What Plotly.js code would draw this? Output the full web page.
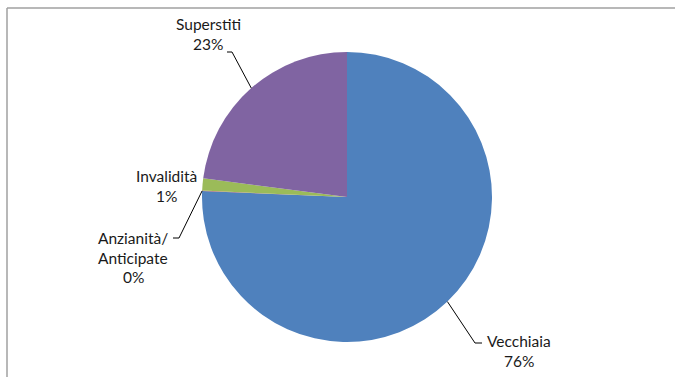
<!DOCTYPE html>
<html><head><meta charset="utf-8">
<script src="https://cdn.plot.ly/plotly-3.0.1.min.js"></script>
<style>html,body{margin:0;padding:0;background:#fff}#chart{width:675px;height:377px}</style>
</head><body><div id="chart"></div>
<script>
// Data
const categories = ["Vecchiaia", "Anzianità/ Anticipate", "Invalidità", "Superstiti"];
const values = [75.65, 0.05, 1.35, 22.95];
const colors = ["#4F81BD", "#C0504D", "#9BBB59", "#8064A2"];

const W = 675, H = 377;
const px = x => x / W, py = y => 1 - y / H;
const cx = 347, cy = 197, R = 145;

// label layout (pixel positions of label line centers)
const labelPos = [
  {x: 519, y: 341},
  {x: 133, y: 238},
  {x: 166, y: 176},
  {x: 208, y: 24}
];
// leader-line label-side anchor points (null = no leader)
const leaderStart = [
  [[482, 343], [475, 343]],
  [[173, 238], [179, 238]],
  null,
  [[227, 52], [232, 52]]
];
const lineGap = 19.5;

const total = values.reduce((a, b) => a + b, 0);
const annotations = [];
const shapes = [];
let cum = 0;
values.forEach((v, i) => {
  const mid = (cum + v / 2) / total * 2 * Math.PI;
  cum += v;
  const pct = Math.round(v / total * 100) + "%";
  const lines = categories[i].split(" ").concat([pct]);
  lines.forEach((t, k) => {
    annotations.push({
      xref: "paper", yref: "paper",
      x: px(labelPos[i].x), y: py(labelPos[i].y + k * lineGap),
      xanchor: "center", yanchor: "middle",
      text: t, showarrow: false,
      font: {family: "Lato, 'Open Sans', sans-serif", size: 15.5, color: "#1a1a1a"}
    });
  });
  if (leaderStart[i]) {
    const ex = cx + R * Math.sin(mid), ey = cy - R * Math.cos(mid);
    const p = leaderStart[i];
    shapes.push({
      type: "path", xref: "paper", yref: "paper",
      path: `M ${px(p[0][0])} ${py(p[0][1])} L ${px(p[1][0])} ${py(p[1][1])} L ${px(ex)} ${py(ey)}`,
      line: {color: "#000", width: 1}
    });
  }
});

// chart frame
shapes.push({type: "line", xref: "paper", yref: "paper", x0: px(7), x1: 1, y0: py(8), y1: py(8), line: {color: "#a0a0a0", width: 1.5}});
shapes.push({type: "line", xref: "paper", yref: "paper", x0: px(7), x1: px(7), y0: py(8), y1: 0, line: {color: "#a0a0a0", width: 1.5}});

const trace = {
  type: "pie",
  labels: categories,
  values: values,
  sort: false,
  direction: "clockwise",
  rotation: 0,
  textinfo: "none",
  hoverinfo: "label+percent",
  marker: {colors: colors, line: {width: 0}},
  showlegend: false,
  domain: {x: [px(cx - R), px(cx + R)], y: [py(cy + R), py(cy - R)]}
};

Plotly.newPlot("chart", [trace], {
  width: W, height: H,
  margin: {l: 0, r: 0, t: 0, b: 0},
  paper_bgcolor: "#fff",
  annotations: annotations,
  shapes: shapes
}, {displayModeBar: false, staticPlot: true});
</script></body></html>
